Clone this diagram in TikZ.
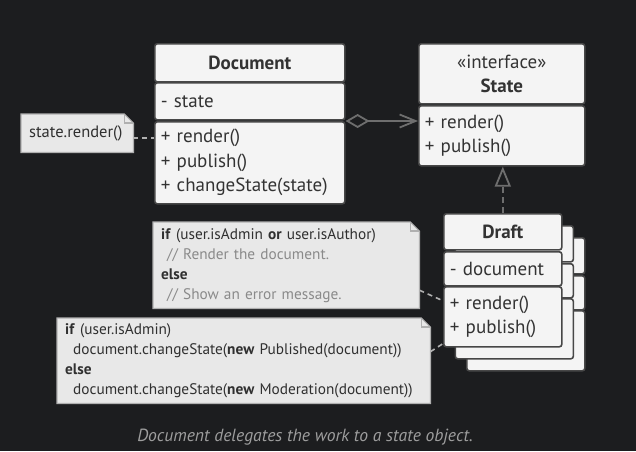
\documentclass[tikz,border=0pt]{standalone}
\usepackage{fontspec}
\setmainfont{PT Sans}
\usetikzlibrary{arrows.meta}

\definecolor{bg}{HTML}{1C1D1F}
\definecolor{boxfill}{HTML}{F4F4F4}
\definecolor{boxline}{HTML}{474747}
\definecolor{boxtext}{HTML}{333333}
\definecolor{notefill}{HTML}{E8E8E8}
\definecolor{noteline}{HTML}{B0B0B0}
\definecolor{notetext}{HTML}{303030}
\definecolor{comment}{HTML}{8A8A8A}
\definecolor{arrowgray}{HTML}{6E6E6E}
\definecolor{caption}{HTML}{9E9E9E}

\newcommand{\kw}[1]{\textbf{#1}}
\newcommand{\cmt}[1]{\textcolor{comment}{#1}}
\newcommand{\dogear}[1]{%
  \fill[bg] ([xshift=-9pt]#1.north east) -- (#1.north east) -- ([yshift=-9pt]#1.north east) -- cycle;
  \draw[noteline] (#1.north west) -- ([xshift=-9pt]#1.north east) -- ([yshift=-9pt]#1.north east) -- (#1.south east) -- (#1.south west) -- cycle;
  \draw[noteline] ([xshift=-9pt]#1.north east) |- ([yshift=-9pt]#1.north east);}

\tikzset{
  classbox/.style={draw=boxline, fill=boxfill, line width=1.6pt, rounded corners=2.5pt, anchor=north west,
    inner xsep=6pt, inner ysep=0pt, align=left, text=boxtext, font=\fontsize{19}{24.5}\selectfont},
  classtitle/.style={classbox, align=center, font=\fontsize{19}{24.5}\selectfont\bfseries},
  notebox/.style={fill=notefill, anchor=north west, inner xsep=8pt, inner ysep=0pt, align=left,
    text=notetext, font=\fontsize{15.3}{20}\selectfont},
  noteline/.style={draw=noteline, line width=1.2pt, line join=miter},
  notelink/.style={draw=noteline, line width=1.6pt, dash pattern=on 5pt off 4pt},
  aggr/.style={draw=arrowgray, line width=1.8pt, {Diamond[open, length=24pt, width=14pt]}-{Straight Barb[length=16pt, width=13pt]}},
  realize/.style={draw=arrowgray, line width=1.8pt, dash pattern=on 6pt off 4pt, -{Triangle[open, length=20pt, width=16pt, fill=bg]}}
}

\begin{document}
\begin{tikzpicture}[x=1pt, y=-1pt]
    \fill[bg] (0,0) rectangle (636,451);

    % Document
    \node[classtitle, text width=178pt, minimum height=38pt] (doctitle) at (154,43) {Document};
    \node[classbox, text width=178pt, minimum height=37pt] (docattr) at (154,82) {- state};
    \node[classbox, text width=178pt, minimum height=82pt] (docmeth) at (154,121) {+ render()\\+ publish()\\+ changeState(state)};

    % State
    \node[classbox, align=center, text width=154pt, minimum height=60pt] (statetitle) at (418,43) {«interface»\\\textbf{State}};
    \node[classbox, text width=154pt, minimum height=60pt] (statemeth) at (418,105) {+ render()\\+ publish()};

    % Draft and its copies behind
    \foreach \dx/\dy/\id in {23/24/c, 11.5/12/b} {
        \node[classtitle, text width=106pt, minimum height=36pt] (drafttitle\id) at (443+\dx,213+\dy) {};
        \node[classbox, text width=106pt, minimum height=34pt] (draftattr\id) at (443+\dx,251+\dy) {};
        \node[classbox, text width=106pt, minimum height=60pt] (draftmeth\id) at (443+\dx,286+\dy) {};
    }
    \node[classtitle, text width=106pt, minimum height=36pt] (drafttitle) at (443,213) {Draft};
    \node[classbox, text width=106pt, minimum height=34pt] (draftattr) at (443,251) {- document};
    \node[classbox, text width=106pt, minimum height=60pt] (draftmeth) at (443,286) {+ render()\\+ publish()};

    % notes
    \node[notebox, text width=96pt, minimum height=38pt, font=\fontsize{16.5}{20}\selectfont] (rendernote) at (21,114) {state.render()};
    \dogear{rendernote}
    \node[notebox, text width=250pt, minimum height=86pt] (guardnote) at (153,222)
        {\kw{if} (user.isAdmin \kw{or} user.isAuthor)\\\hspace*{6pt}\cmt{// Render the document.}\\\kw{else}\\\hspace*{6pt}\cmt{// Show an error message.}};
    \dogear{guardnote}
    \node[notebox, text width=357pt, minimum height=85pt] (switchnote) at (57,318)
        {\kw{if} (user.isAdmin)\\\hspace*{8pt}document.changeState(\kw{new} Published(document))\\\kw{else}\\\hspace*{8pt}document.changeState(\kw{new} Moderation(document))};
    \dogear{switchnote}

    % connectors
    \draw[aggr] (docmeth.north east) -- (docmeth.north east -| statemeth.west);
    \draw[realize] (drafttitle.north) -- (drafttitle.north |- statemeth.south);
    \draw[notelink] ([yshift=-5pt]rendernote.east) -- ([yshift=-5pt]rendernote.east -| docmeth.west);
    \draw[notelink] ([yshift=-25pt]guardnote.east) -- ([yshift=16pt]draftmeth.west);
    \draw[notelink] ([yshift=9pt]switchnote.east) -- ([yshift=4pt]draftmeth.south west);

    \node[text=caption, font=\fontsize{17.6}{20}\selectfont\itshape] (caption) at (305,437) {Document delegates the work to a state object.};
\end{tikzpicture}
\end{document}
